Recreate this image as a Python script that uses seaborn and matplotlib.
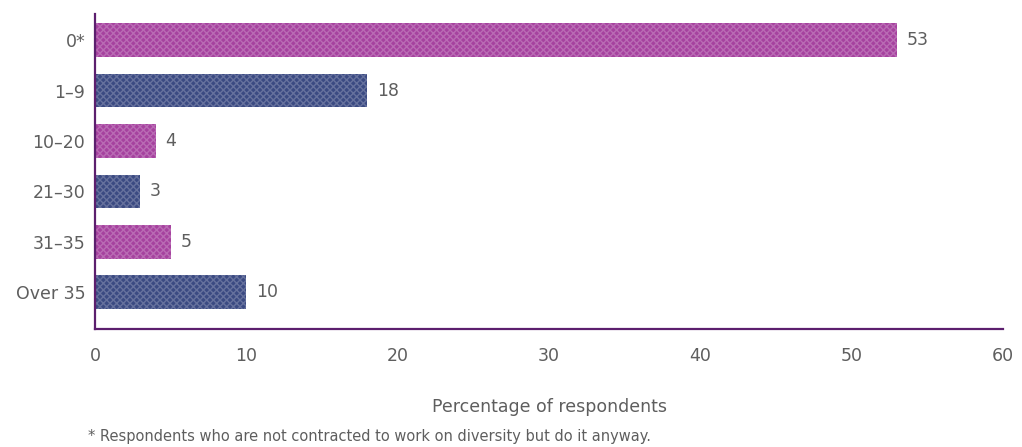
import matplotlib
matplotlib.use("Agg")
import matplotlib.pyplot as plt
import seaborn as sns
import pandas as pd

categories = ["0*", "1–9", "10–20", "21–30", "31–35", "Over 35"]
values = [53, 18, 4, 3, 5, 10]
bar_colors = ["#a6429f", "#3b4a82", "#a6429f", "#3b4a82", "#a6429f", "#3b4a82"]
x_ticks = [0, 10, 20, 30, 40, 50, 60]
x_label = "Percentage of respondents"
footnote = "* Respondents who are not contracted to work on diversity but do it anyway."

sns.set_theme(style="white")
plt.rcParams["font.family"] = ["DejaVu Sans"]

text_color = "#5e5e5e"
df = pd.DataFrame({"group": categories, "pct": values})

fig = plt.figure(figsize=(10.22, 4.47), dpi=100)
ax = fig.add_axes([95 / 1022, 1 - 329 / 447, (1003 - 95) / 1022, (329 - 14) / 447])

sns.barplot(data=df, x="pct", y="group", hue="group", palette=bar_colors,
            legend=False, width=0.67, ax=ax, saturation=1)

for patch in ax.patches:
    patch.set_hatch("xxxxx")
    patch.set_edgecolor((1, 1, 1, 0.22))
    patch.set_linewidth(0)

for patch, v in zip(ax.patches, values):
    y = patch.get_y() + patch.get_height() / 2
    ax.annotate(str(v), (patch.get_width(), y), xytext=(7, 0),
                textcoords="offset points", va="center", ha="left",
                fontsize=12.5, color=text_color)

ax.set_xlim(0, 60)
ax.set_ylim(5.73, -0.52)
ax.set_xticks(x_ticks)
ax.set_xticklabels([str(t) for t in x_ticks])
ax.tick_params(axis="both", length=0, labelsize=12.5, colors=text_color)
ax.tick_params(axis="x", pad=13)
ax.tick_params(axis="y", pad=7)
ax.set_ylabel("")
ax.set_xlabel(x_label, fontsize=12.5, color=text_color, labelpad=24)

for side in ["top", "right"]:
    ax.spines[side].set_visible(False)
for side in ["left", "bottom"]:
    ax.spines[side].set_color("#5c1f6e")
    ax.spines[side].set_linewidth(1.6)

fig.text(88 / 1022, 1 - 437 / 447, footnote, fontsize=10.5, color=text_color,
         ha="left", va="center")

fig.savefig("out.png", dpi=100)
